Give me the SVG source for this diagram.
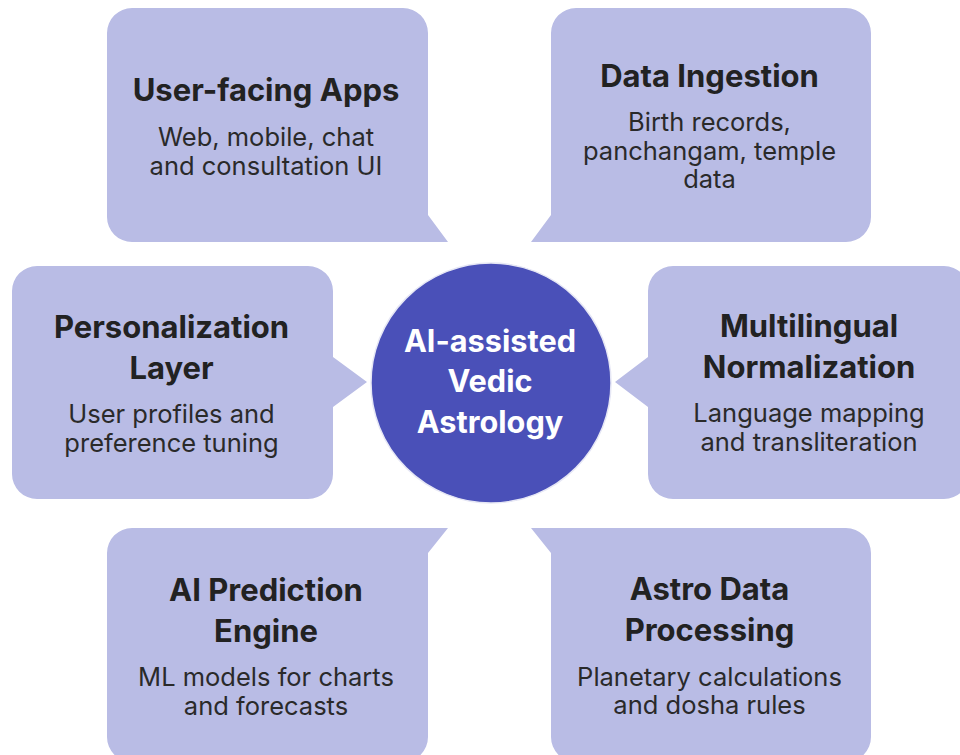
<svg xmlns="http://www.w3.org/2000/svg" width="960" height="755" viewBox="0 0 960 755">
<style>
.box{fill:#b9bce5;}
.t{font-family:Inter,"Noto Sans","Liberation Sans",sans-serif;font-weight:700;font-size:31px;fill:#222222;text-anchor:middle;}
.b{font-family:Inter,"Noto Sans","Liberation Sans",sans-serif;font-weight:400;font-size:25.5px;fill:#2a2a2a;text-anchor:middle;}
.c{font-family:Inter,"Noto Sans","Liberation Sans",sans-serif;font-weight:700;font-size:30.7px;fill:#ffffff;text-anchor:middle;}
</style>
<rect width="960" height="755" fill="#ffffff"/>
<g id="connectors"></g>
<g id="user-facing-apps">
<path class="box" d="M132 8 H403 A25 25 0 0 1 428 33 V215 L448 242 H132 A25 25 0 0 1 107 217 V33 A25 25 0 0 1 132 8 Z"/>
<text class="t" x="266" y="101">User-facing Apps</text>
<text class="b" x="266" y="146">Web, mobile, chat</text>
<text class="b" x="266" y="174.5">and consultation UI</text>
</g>
<g id="data-ingestion">
<path class="box" d="M576 8 H846 A25 25 0 0 1 871 33 V217 A25 25 0 0 1 846 242 H531 L551 215 V33 A25 25 0 0 1 576 8 Z"/>
<text class="t" x="709.5" y="87">Data Ingestion</text>
<text class="b" x="709.5" y="131">Birth records,</text>
<text class="b" x="709.5" y="159.5">panchangam, temple</text>
<text class="b" x="709.5" y="188">data</text>
</g>
<g id="personalization-layer">
<path class="box" d="M37 266 H308 A25 25 0 0 1 333 291 V357 L367 382 L333 407 V474 A25 25 0 0 1 308 499 H37 A25 25 0 0 1 12 474 V291 A25 25 0 0 1 37 266 Z"/>
<text class="t" x="171.5" y="338">Personalization</text>
<text class="t" x="171.5" y="379">Layer</text>
<text class="b" x="171.5" y="423">User profiles and</text>
<text class="b" x="171.5" y="451.5">preference tuning</text>
</g>
<g id="multilingual-normalization">
<path class="box" d="M673 266 H944 A25 25 0 0 1 969 291 V474 A25 25 0 0 1 944 499 H673 A25 25 0 0 1 648 474 V407 L615 382 L648 357 V291 A25 25 0 0 1 673 266 Z"/>
<text class="t" x="809" y="337">Multilingual</text>
<text class="t" x="809" y="378">Normalization</text>
<text class="b" x="809" y="422">Language mapping</text>
<text class="b" x="809" y="450.5">and transliteration</text>
</g>
<g id="ai-prediction-engine">
<path class="box" d="M132 528 H448 L428 553 V737 A25 25 0 0 1 403 762 H132 A25 25 0 0 1 107 737 V553 A25 25 0 0 1 132 528 Z"/>
<text class="t" x="266" y="601">AI Prediction</text>
<text class="t" x="266" y="642">Engine</text>
<text class="b" x="266" y="686">ML models for charts</text>
<text class="b" x="266" y="714.5">and forecasts</text>
</g>
<g id="astro-data-processing">
<path class="box" d="M531 528 H846 A25 25 0 0 1 871 553 V737 A25 25 0 0 1 846 762 H576 A25 25 0 0 1 551 737 V553 Z"/>
<text class="t" x="709.5" y="600">Astro Data</text>
<text class="t" x="709.5" y="641">Processing</text>
<text class="b" x="709.5" y="685.5">Planetary calculations</text>
<text class="b" x="709.5" y="714">and dosha rules</text>
</g>
<g id="center">
<circle cx="491" cy="383" r="120" fill="#4a50b8" stroke="#e6e7f5" stroke-width="1.5"/>
<text class="c" x="490" y="352">AI-assisted</text>
<text class="c" x="490" y="392">Vedic</text>
<text class="c" x="490" y="433">Astrology</text>
</g>
</svg>
